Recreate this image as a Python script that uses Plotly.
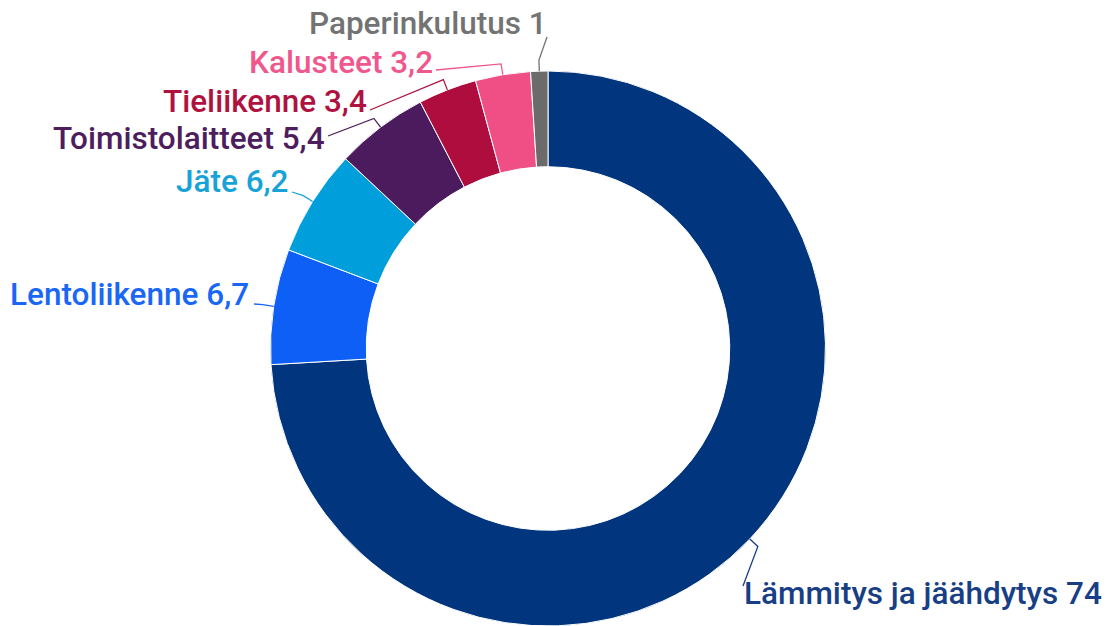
import math
import plotly.graph_objects as go

# Emission shares by source
labels = ["Lämmitys ja jäähdytys", "Lentoliikenne", "Jäte", "Toimistolaitteet",
          "Tieliikenne", "Kalusteet", "Paperinkulutus"]
values = [74, 6.7, 6.2, 5.4, 3.4, 3.2, 1]
value_text = ["74", "6,7", "6,2", "5,4", "3,4", "3,2", "1"]

slice_colors = ["#01367f", "#0d5ff6", "#009fdb", "#4b1b5e", "#b00d3f", "#f04f86", "#6b6b6b"]
label_colors = ["#183f86", "#1a66f5", "#17a3d8", "#4d1d5e", "#b0123f", "#f0578d", "#737373"]

W, H = 1113, 626
M_TOP = 71
PLOT_H = H - M_TOP
R = PLOT_H / 2.0
CX, CY = 548.0, M_TOP + R

# label placement in pixels: (x, y, anchor) and where the leader meets the text
label_pos = [(742, 593, "left"), (251, 294, "right"), (291, 182, "right"),
             (327, 138, "right"), (369, 101, "right"), (435, 63, "right"),
             (549, 24, "right")]
leader_end = [(743, 586), (254, 304), (292, 192), (328, 136), (370, 110),
              (436, 70), (547, 37)]


def px_to_paper(x, y):
    return x / W, (H - y) / PLOT_H


fig = go.Figure(go.Pie(
    labels=labels,
    values=values,
    sort=False,
    direction="clockwise",
    rotation=0,
    hole=0.655,
    marker=dict(colors=slice_colors, line=dict(color="white", width=1)),
    textinfo="none",
    hoverinfo="label+value",
    domain=dict(x=[(CX - R) / W, (CX + R) / W], y=[0, 1]),
    showlegend=False,
))

total = sum(values)
cum = 0.0
shapes = []
annotations = []
for i, v in enumerate(values):
    mid = (cum + v / 2.0) / total * 2 * math.pi
    cum += v
    sx, sy = CX + R * math.sin(mid), CY - R * math.cos(mid)
    ex, ey = CX + (R + 11) * math.sin(mid), CY - (R + 11) * math.cos(mid)
    tx, ty = leader_end[i]
    p0 = px_to_paper(sx, sy)
    p1 = px_to_paper(ex, ey)
    p2 = px_to_paper(tx, ty)
    shapes.append(dict(
        type="path", xref="paper", yref="paper",
        path=f"M {p0[0]},{p0[1]} L {p1[0]},{p1[1]} L {p2[0]},{p2[1]}",
        line=dict(color=label_colors[i], width=1.3),
    ))
    lx, ly, anchor = label_pos[i]
    ax_, ay_ = px_to_paper(lx, ly)
    annotations.append(dict(
        x=ax_, y=ay_, xref="paper", yref="paper",
        xanchor=anchor, yanchor="middle",
        text=f"{labels[i]} {value_text[i]}",
        showarrow=False,
        font=dict(family="Roboto", size=31.5, weight=500, color=label_colors[i]),
    ))

fig.update_layout(
    width=W, height=H,
    margin=dict(l=0, r=0, t=M_TOP, b=0),
    paper_bgcolor="white",
    plot_bgcolor="white",
    shapes=shapes,
    annotations=annotations,
)

fig.write_html("out.html")
